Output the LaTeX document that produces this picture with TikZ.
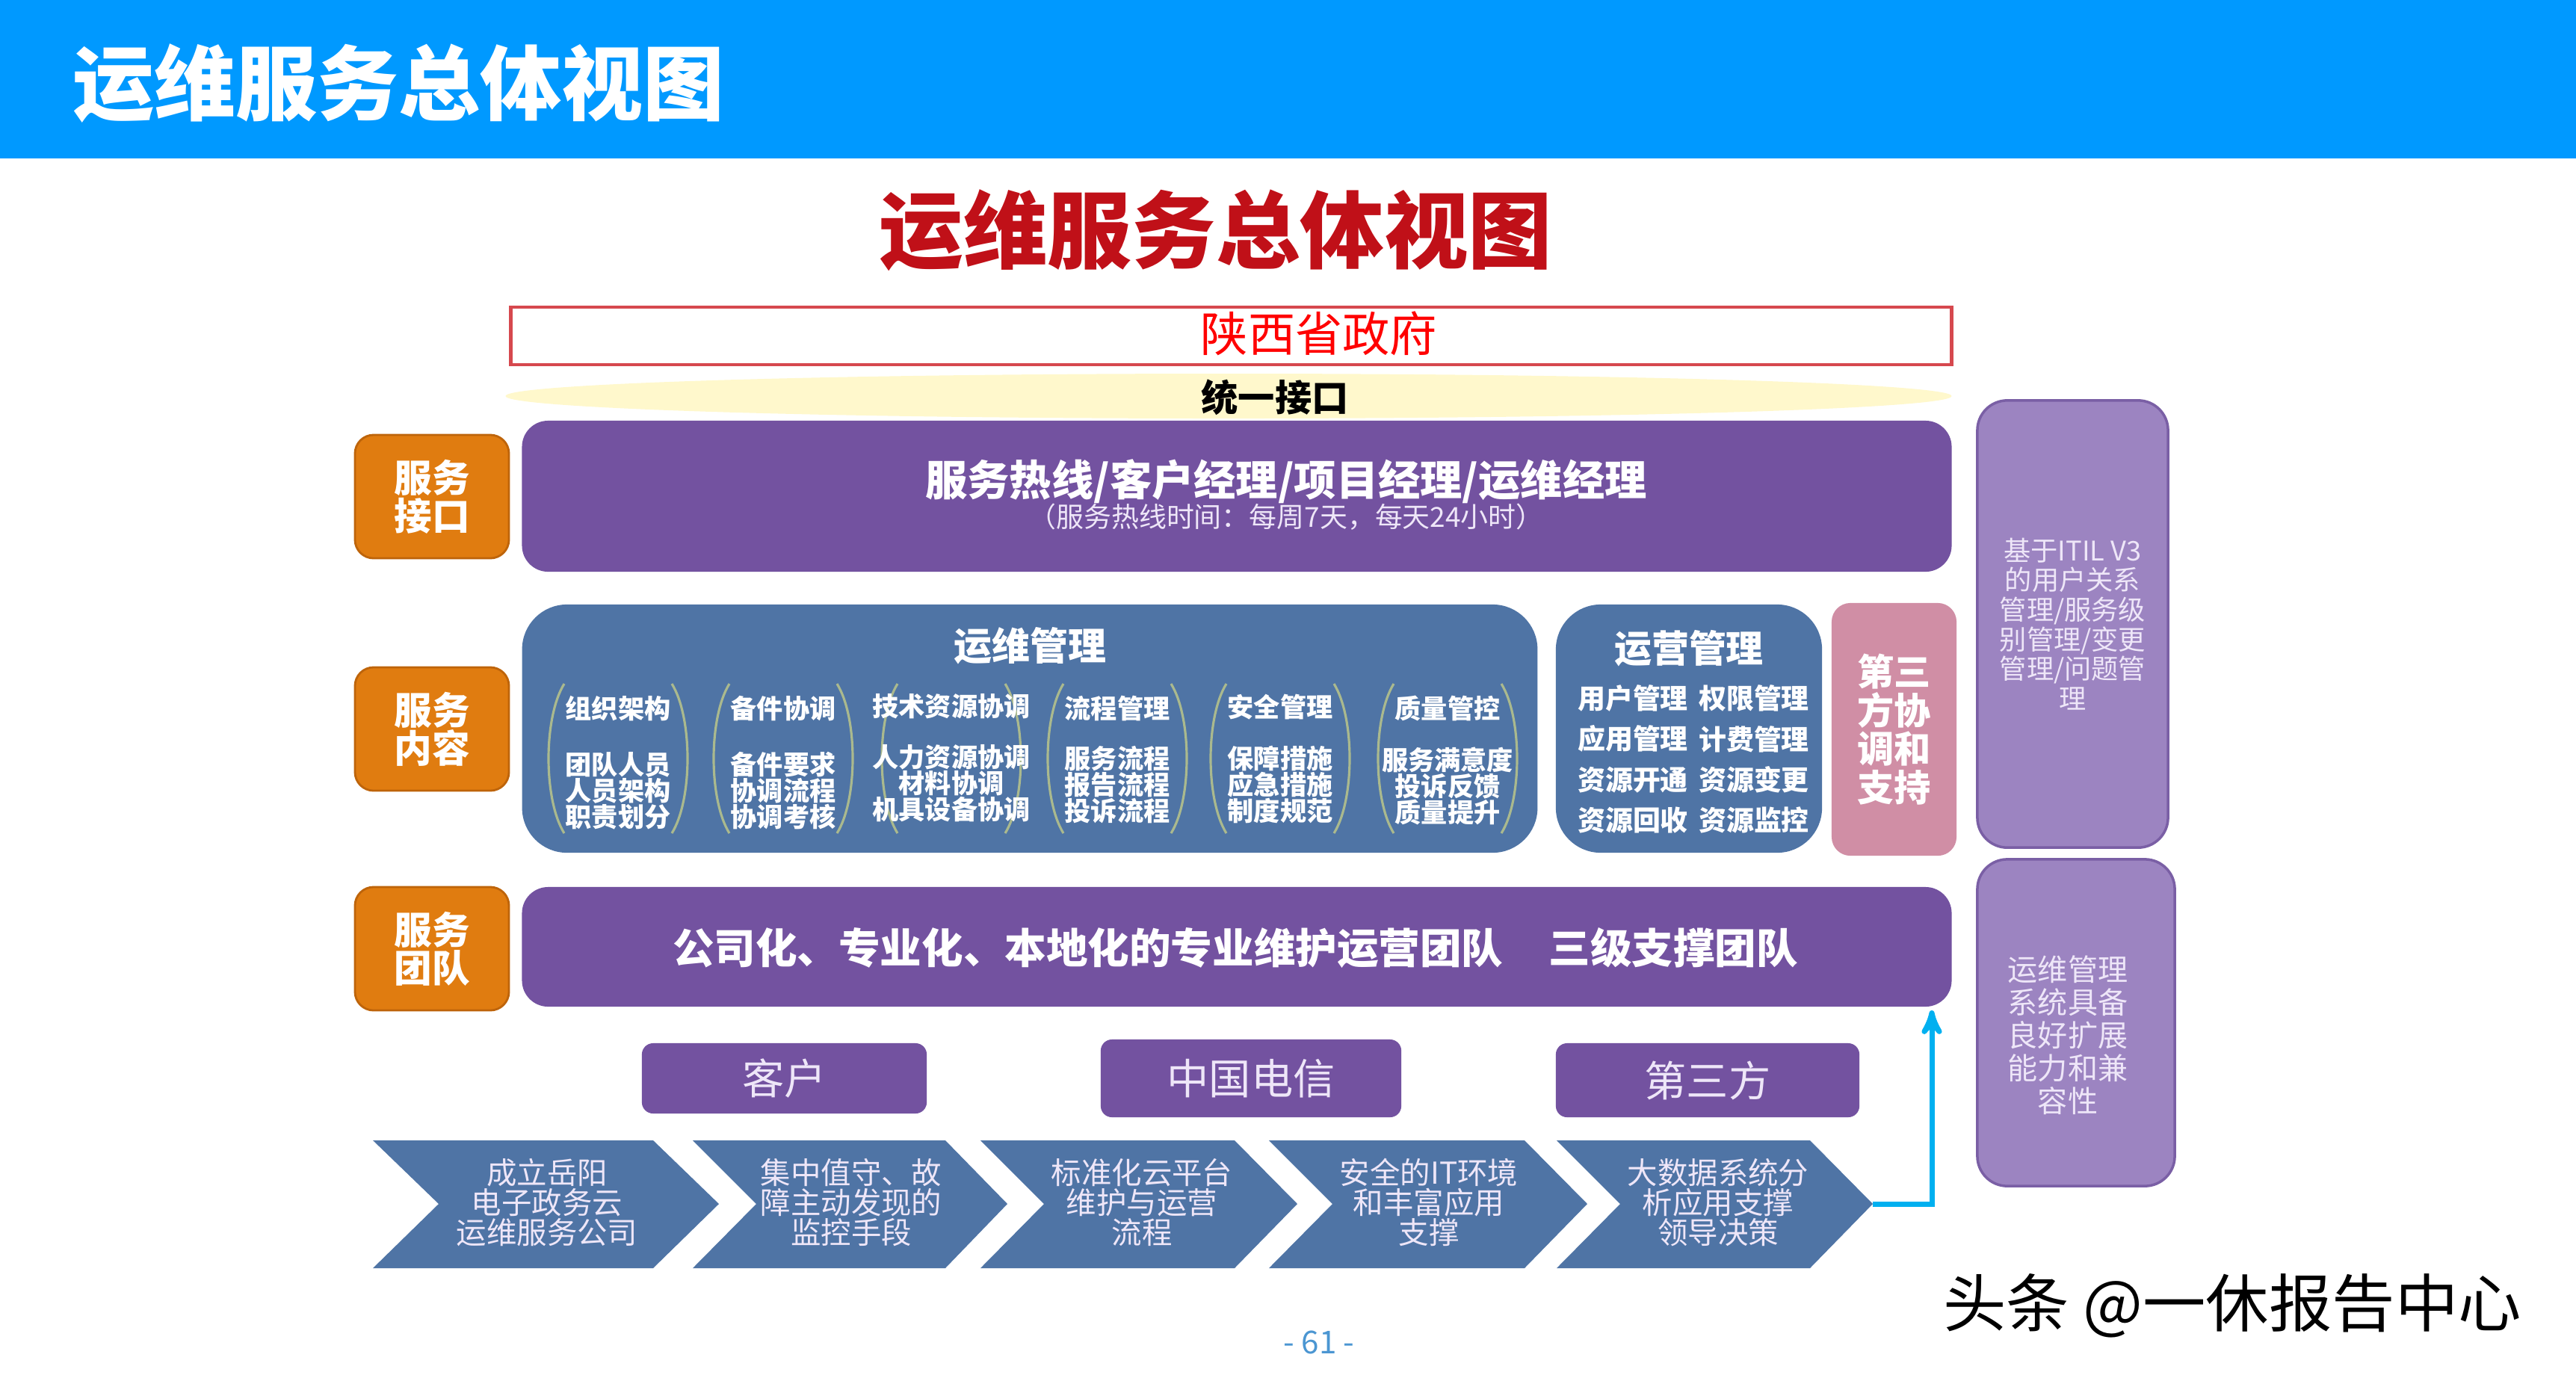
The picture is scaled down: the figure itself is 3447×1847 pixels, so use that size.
\documentclass[tikz,border=0pt]{standalone}
\usepackage{fontspec}
\setmainfont{Noto Sans CJK SC}
\usetikzlibrary{positioning,arrows,shapes.geometric}
\definecolor{barblue}{RGB}{0,153,255}
\definecolor{ttlred}{RGB}{192,16,24}
\definecolor{govred}{RGB}{214,72,78}
\definecolor{unifill}{RGB}{255,248,204}
\definecolor{lblorange}{RGB}{224,124,16}
\definecolor{lbledge}{RGB}{190,100,10}
\definecolor{bandpurple}{RGB}{115,82,160}
\definecolor{panelblue}{RGB}{79,116,165}
\definecolor{thdpink}{RGB}{208,142,165}
\definecolor{sidelav}{RGB}{156,132,193}
\definecolor{sideedge}{RGB}{122,95,165}
\definecolor{lavtext}{RGB}{238,230,248}
\definecolor{brkgreen}{RGB}{170,185,142}
\definecolor{arrcyan}{RGB}{0,176,240}
\definecolor{pagenum}{RGB}{75,150,210}
\tikzset{
  >=stealth',
  lbl/.style={fill=lblorange, draw=lbledge, line width=0.8pt, rounded corners=0.25cm,
    minimum width=2.06cm, minimum height=1.65cm, text=white, align=center,
    font=\fontsize{14.4}{14.6}\selectfont\bfseries},
  band/.style={fill=bandpurple, rounded corners=0.35cm, minimum width=19.12cm},
  panel/.style={fill=panelblue, rounded corners=0.6cm, minimum height=3.32cm},
  side/.style={fill=sidelav, draw=sideedge, line width=1pt, rounded corners=0.4cm},
  tag/.style={fill=bandpurple, rounded corners=0.15cm, text=lavtext,
    font=\fontsize{16}{16}\selectfont},
  colhd/.style={text=white, font=\fontsize{10}{10}\selectfont\bfseries},
  colit/.style={text=white, align=center, font=\fontsize{10}{10}\selectfont\bfseries},
  runit/.style={text=white, align=center, font=\fontsize{10.5}{15.45}\selectfont\bfseries},
  chev/.style={fill=panelblue},
  chevtxt/.style={text=lavtext, align=center, font=\fontsize{11.5}{11.4}\selectfont},
  brk/.style={draw=brkgreen, line width=0.9pt},
}
\begin{document}
\begin{tikzpicture}[x=0.01cm, y=-0.01cm]
  \useasboundingbox (0,0) rectangle (3447,1847);
  % header bar and titles
  \node[fill=barblue, minimum width=34.47cm, minimum height=2.12cm, inner sep=0pt] (hdr) at (1723.5,106) {};
  \node[anchor=west, inner sep=0pt, text=white, font=\fontsize{31}{31}\selectfont\bfseries] (hdrT) at (97,112) {运维服务总体视图};
  \node[text=ttlred, font=\fontsize{32}{32}\selectfont\bfseries] (ttl) at (1627,308) {运维服务总体视图};
  % government and unified interface
  \node[draw=govred, line width=1.2pt, minimum width=19.27cm, minimum height=0.77cm] (gov) at (1647.5,449.5) {};
  \node[text=red, font=\fontsize{18}{18}\selectfont] (govT) at (1765,446) {陕西省政府};
  \node[ellipse, fill=unifill, minimum width=19.34cm, minimum height=0.6cm] (uni) at (1644,530) {};
  \node[font=\fontsize{14}{14}\selectfont\bfseries] (uniT) at (1706,532) {统一接口};
  % row labels
  \node[lbl] (lb1) at (578,664.5) {服务\\接口};
  \node[lbl] (lb2) at (578,975.5) {服务\\内容};
  \node[lbl] (lb3) at (578,1269.5) {服务\\团队};
  % service interface
  \node[band, minimum height=2.02cm] (hot) at (1655,664) {};
  \node[text=white, font=\fontsize{16}{16}\selectfont\bfseries] (hotT) at (1721,644) {服务热线/客户经理/项目经理/运维经理};
  \node[text=lavtext, font=\fontsize{10.5}{10.5}\selectfont] (hotS) at (1721,692) {（服务热线时间：每周7天，每天24小时）};
  % operation and maintenance management
  \node[panel, minimum width=13.58cm] (ops) at (1378,975) {};
  \node[text=white, font=\fontsize{14.5}{14.5}\selectfont\bfseries] (opsT) at (1378,864) {运维管理};
  \foreach \cx in {827,1048,1273,1495,1713,1937} {
    \draw[brk] (\cx-72,915) .. controls (\cx-100,960) and (\cx-100,1070) .. (\cx-72,1115);
    \draw[brk] (\cx+72,915) .. controls (\cx+100,960) and (\cx+100,1070) .. (\cx+72,1115);
  }
  \node[colhd] (h1) at (827,948) {组织架构};
  \node[colit] (i1) at (827,1058) {团队人员\\人员架构\\职责划分};
  \node[colhd] (h2) at (1048,948) {备件协调};
  \node[colit] (i2) at (1048,1058) {备件要求\\协调流程\\协调考核};
  \node[colhd] (h3) at (1273,945) {技术资源协调};
  \node[colit] (i3) at (1273,1048) {人力资源协调\\材料协调\\机具设备协调};
  \node[colhd] (h4) at (1495,948) {流程管理};
  \node[colit] (i4) at (1495,1050) {服务流程\\报告流程\\投诉流程};
  \node[colhd] (h5) at (1713,946) {安全管理};
  \node[colit] (i5) at (1713,1050) {保障措施\\应急措施\\制度规范};
  \node[colhd] (h6) at (1937,948) {质量管控};
  \node[colit] (i6) at (1937,1052) {服务满意度\\投诉反馈\\质量提升};
  % operation management
  \node[panel, minimum width=3.56cm] (run) at (2260,975) {};
  \node[text=white, font=\fontsize{14.2}{14.2}\selectfont\bfseries] (runT) at (2260,868) {运营管理};
  \node[runit] (r1) at (2185,1016) {用户管理\\应用管理\\资源开通\\资源回收};
  \node[runit] (r2) at (2347,1016) {权限管理\\计费管理\\资源变更\\资源监控};
  % third party
  \node[fill=thdpink, rounded corners=0.25cm, minimum width=1.67cm, minimum height=3.38cm,
    text=white, align=center, font=\fontsize{14}{14.7}\selectfont\bfseries] (thd) at (2534.5,976) {第三\\方协\\调和\\支持};
  % right side boxes
  \node[side, minimum width=2.55cm, minimum height=5.98cm, text=lavtext, align=center,
    font=\fontsize{10.3}{11.3}\selectfont] (itil) at (2773.5,835) {基于ITIL V3\\的用户关系\\管理/服务级\\别管理/变更\\管理/问题管\\理};
  \node[side, minimum width=2.64cm, minimum height=4.37cm] (ext) at (2778,1368.5) {};
  \node[text=lavtext, align=center, font=\fontsize{11.4}{12.5}\selectfont] (extT) at (2767,1385) {运维管理\\系统具备\\良好扩展\\能力和兼\\容性};
  % service team
  \node[band, minimum height=1.60cm] (team) at (1655,1267) {};
  \node[text=white, font=\fontsize{15.8}{15.8}\selectfont\bfseries] (teamT) at (1653,1268) {公司化、专业化、本地化的专业维护运营团队\hspace{1.1em}三级支撑团队};
  % parties
  \node[tag, minimum width=3.81cm, minimum height=0.94cm] (cust) at (1049.5,1443) {客户};
  \node[tag, minimum width=4.02cm, minimum height=1.04cm] (tel) at (1674,1443) {中国电信};
  \node[tag, minimum width=4.06cm, minimum height=0.99cm] (thp) at (2285,1445.5) {第三方};
  % steps
  \fill[chev] (499,1526) -- (874,1526) -- (962,1611) -- (874,1697) -- (499,1697) -- (587,1611) -- cycle;
  \node[chevtxt] (c1) at (732,1609) {成立岳阳\\电子政务云\\运维服务公司};
  \fill[chev] (927,1526) -- (1265,1526) -- (1348,1611) -- (1265,1697) -- (927,1697) -- (1012,1611) -- cycle;
  \node[chevtxt] (c2) at (1139,1609) {集中值守、故\\障主动发现的\\监控手段};
  \fill[chev] (1312,1526) -- (1652,1526) -- (1736,1611) -- (1652,1697) -- (1312,1697) -- (1397,1611) -- cycle;
  \node[chevtxt] (c3) at (1528,1609) {标准化云平台\\维护与运营\\流程};
  \fill[chev] (1698,1526) -- (2040,1526) -- (2124,1611) -- (2040,1697) -- (1698,1697) -- (1783,1611) -- cycle;
  \node[chevtxt] (c4) at (1912,1609) {安全的IT环境\\和丰富应用\\支撑};
  \fill[chev] (2083,1526) -- (2422,1526) -- (2506,1611) -- (2422,1697) -- (2083,1697) -- (2168,1611) -- cycle;
  \node[chevtxt] (c5) at (2299,1609) {大数据系统分\\析应用支撑\\领导决策};
  \coordinate (c5tip) at (2506,1611);
  \coordinate (arrtop) at (2585,1352);
  \draw[->, draw=arrcyan, line width=2pt] (c5tip) -| (arrtop);
  % footer
  \node[font=\fontsize{24}{24}\selectfont] (wm) at (2987,1747) {头条 @一休报告中心};
  \node[text=pagenum, font=\fontsize{12}{12}\selectfont] (pg) at (1765,1796) {- 61 -};
\end{tikzpicture}
\end{document}
